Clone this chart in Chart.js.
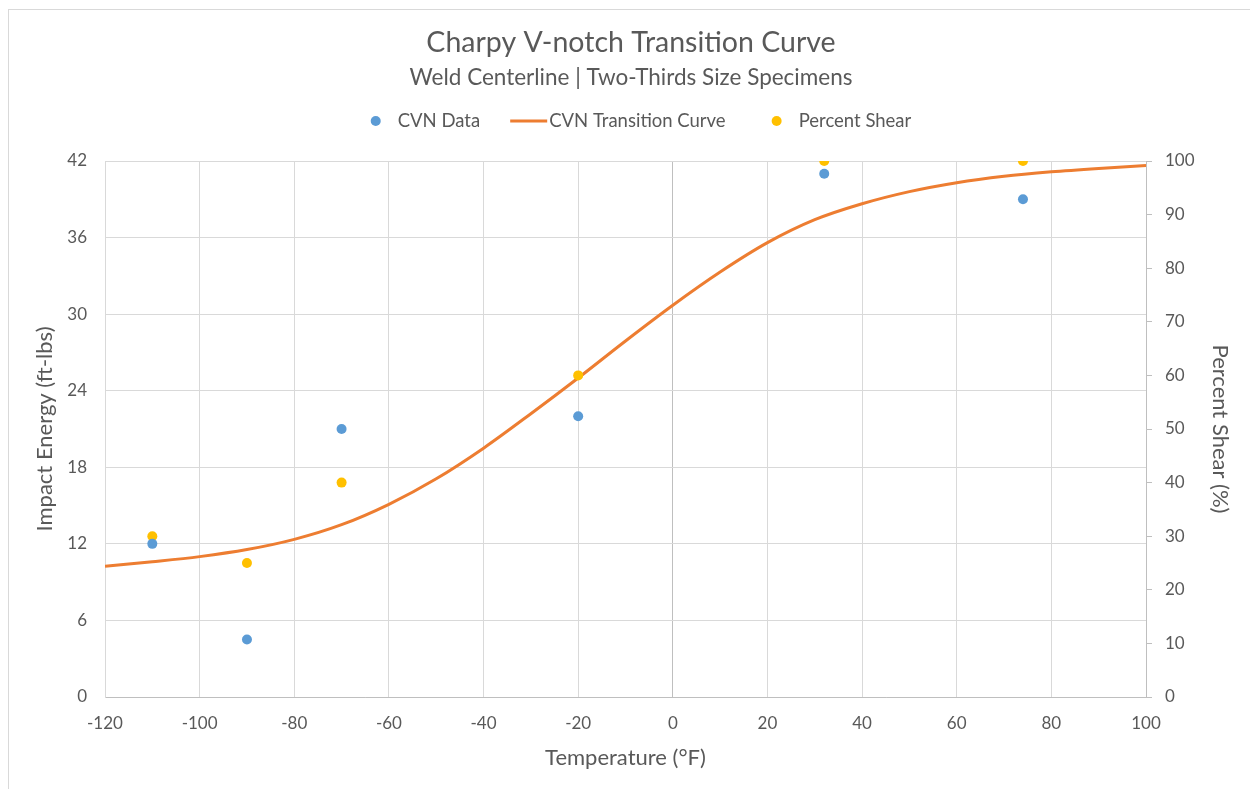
<!DOCTYPE html>
<html>
<head>
<meta charset="utf-8">
<script src="https://cdn.jsdelivr.net/npm/chart.js@4.4.1/dist/chart.umd.min.js"></script>
<style>
    html, body { margin: 0; padding: 0; background: #ffffff; }
    #chart { display: block; }
</style>
</head>
<body>
<canvas id="chart" width="1250" height="789"></canvas>
<script>
// measured specimens
const cvnTemps = [-110, -90, -70, -20, 32, 74];
const cvnEnergy = [12, 4.5, 21, 22, 41, 39];
const shearPercent = [30, 25, 40, 60, 100, 100];

// fitted transition curve, read every 10 degF
const curveTemps = [-120, -110, -100, -90, -80, -70, -60, -50, -40, -30, -20, -10,
    0, 10, 20, 30, 40, 50, 60, 70, 80, 90, 100];
const curveEnergy = [10.25, 10.6, 11.0, 11.55, 12.35, 13.5, 15.1, 17.1, 19.5, 22.2, 25.0, 27.9,
    30.7, 33.3, 35.6, 37.4, 38.65, 39.6, 40.3, 40.8, 41.15, 41.42, 41.65];

const TEXT_COLOR = '#595959';
const GRID_COLOR = '#d9d9d9';
const AXIS_COLOR = '#bfbfbf';
const FONT = 'Lato';

const toPoints = (xs, ys) => xs.map((x, i) => ({ x, y: ys[i] }));

// Excel style frame round the chart
const chartFrame = {
    id: 'chartFrame',
    beforeDraw(chart) {
        const { ctx } = chart;
        ctx.save();
        ctx.strokeStyle = GRID_COLOR;
        ctx.lineWidth = 1;
        ctx.strokeRect(8.5, 9.5, chart.width + 20, chart.height + 20);
        ctx.restore();
    }
};

// legend drawn by hand so the markers match the workbook
const customLegend = {
    id: 'customLegend',
    afterDraw(chart) {
        const { ctx } = chart;
        const y = 121;
        const centerX = 641;
        const gaps = [30, 46];
        ctx.save();
        ctx.font = `18.5px ${FONT}`;
        ctx.textBaseline = 'middle';

        const items = chart.data.datasets.map((ds) => ({
            ds,
            markerWidth: ds.showLine ? 39 : 27,
            textWidth: ctx.measureText(ds.label).width
        }));
        const total = items.reduce((sum, it) => sum + it.markerWidth + it.textWidth, 0) +
            gaps.reduce((sum, g) => sum + g, 0);

        let x = centerX - total / 2;
        items.forEach((it, i) => {
            if (it.ds.showLine) {
                ctx.strokeStyle = it.ds.borderColor;
                ctx.lineWidth = 3;
                ctx.beginPath();
                ctx.moveTo(x, y);
                ctx.lineTo(x + it.markerWidth - 2, y);
                ctx.stroke();
            } else {
                ctx.fillStyle = it.ds.backgroundColor;
                ctx.beginPath();
                ctx.arc(x + 5, y, 5, 0, Math.PI * 2);
                ctx.fill();
            }
            ctx.fillStyle = TEXT_COLOR;
            ctx.fillText(it.ds.label, x + it.markerWidth, y);
            x += it.markerWidth + it.textWidth + (gaps[i] || 0);
        });
        ctx.restore();
    }
};

const tickFont = { family: FONT, size: 17 };
const axisTitleFont = { family: FONT, size: 22 };

new Chart(document.getElementById('chart'), {
    type: 'scatter',
    data: {
        datasets: [
            {
                label: 'CVN Data',
                data: toPoints(cvnTemps, cvnEnergy),
                backgroundColor: '#5B9BD5',
                borderColor: '#5B9BD5',
                borderWidth: 0,
                pointRadius: 5,
                yAxisID: 'y',
                showLine: false,
                order: 1
            },
            {
                label: 'CVN Transition Curve',
                data: toPoints(curveTemps, curveEnergy),
                borderColor: '#ED7D31',
                backgroundColor: '#ED7D31',
                borderWidth: 3,
                pointRadius: 0,
                showLine: true,
                cubicInterpolationMode: 'monotone',
                yAxisID: 'y',
                order: 3
            },
            {
                label: 'Percent Shear',
                data: toPoints(cvnTemps, shearPercent),
                backgroundColor: '#FFC000',
                borderColor: '#FFC000',
                borderWidth: 0,
                pointRadius: 5,
                yAxisID: 'y1',
                showLine: false,
                order: 2
            }
        ]
    },
    options: {
        responsive: false,
        animation: false,
        layout: {
            padding: { top: 10, left: 12, right: 0, bottom: 0 }
        },
        plugins: {
            legend: { display: false },
            tooltip: { enabled: false },
            title: {
                display: true,
                text: 'Charpy V-notch Transition Curve',
                color: TEXT_COLOR,
                font: { family: FONT, size: 28.5, weight: 'normal' },
                padding: { top: 15.9, bottom: 4 }
            },
            subtitle: {
                display: true,
                text: 'Weld Centerline | Two-Thirds Size Specimens',
                color: TEXT_COLOR,
                font: { family: FONT, size: 22.5 },
                padding: { top: 0, bottom: 69.9 }
            }
        },
        scales: {
            x: {
                type: 'linear',
                min: -120,
                max: 100,
                ticks: { stepSize: 20, color: TEXT_COLOR, font: tickFont, padding: 16 },
                grid: {
                    color: (ctx) => (ctx.tick && ctx.tick.value === 0 ? AXIS_COLOR : GRID_COLOR),
                    drawTicks: false
                },
                border: { color: AXIS_COLOR },
                title: {
                    display: true,
                    text: 'Temperature (°F)',
                    color: TEXT_COLOR,
                    font: axisTitleFont,
                    padding: { top: 0, bottom: 18 }
                },
                afterFit: (scale) => { scale.height = 92; }
            },
            y: {
                position: 'left',
                min: 0,
                max: 42,
                ticks: { stepSize: 6, color: TEXT_COLOR, font: tickFont, padding: 18 },
                grid: { color: GRID_COLOR, drawTicks: false },
                border: { color: GRID_COLOR },
                title: {
                    display: true,
                    text: 'Impact Energy (ft-lbs)',
                    color: TEXT_COLOR,
                    font: axisTitleFont,
                    padding: { top: 20, bottom: 0 }
                },
                afterFit: (scale) => { scale.width = 93; }
            },
            y1: {
                position: 'right',
                min: 0,
                max: 100,
                ticks: { stepSize: 10, color: TEXT_COLOR, font: tickFont, padding: 13 },
                grid: { drawOnChartArea: false, color: AXIS_COLOR, tickLength: 6 },
                border: { color: AXIS_COLOR },
                title: {
                    display: true,
                    text: 'Percent Shear (%)',
                    color: TEXT_COLOR,
                    font: axisTitleFont,
                    padding: { top: 17, bottom: 0 }
                },
                afterFit: (scale) => { scale.width = 104; }
            }
        }
    },
    plugins: [chartFrame, customLegend]
});
</script>
</body>
</html>
